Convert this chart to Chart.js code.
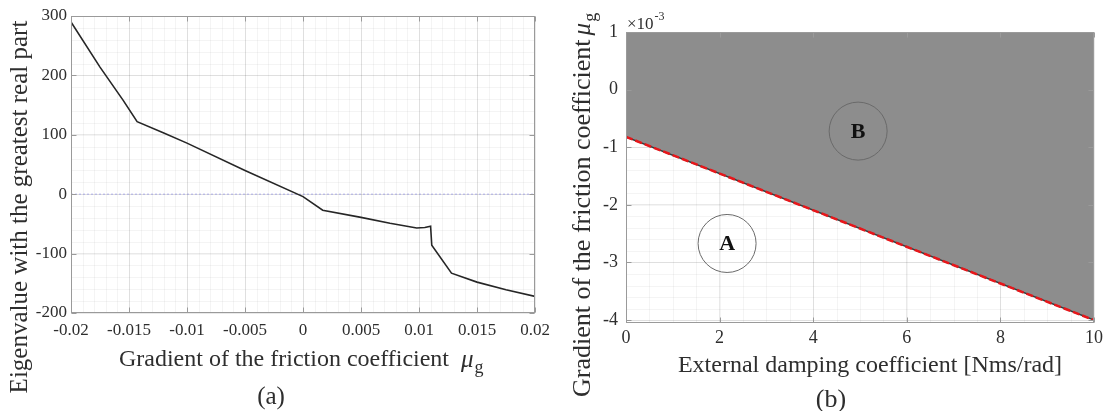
<!DOCTYPE html>
<html><head><meta charset="utf-8">
<script src="https://cdn.jsdelivr.net/npm/chart.js@4.4.1/dist/chart.umd.min.js"></script>
<style>
html,body{margin:0;padding:0;background:#fff;}
#wrap{position:relative;width:1108px;height:411px;overflow:hidden;background:#fff;}
#ca{position:absolute;left:0;top:0;}
#cb{position:absolute;left:560px;top:0;}
</style></head><body>
<div id="wrap"><canvas id="ca" width="560" height="411"></canvas><canvas id="cb" width="548" height="411"></canvas></div>
<script>
// ---------- (a) eigenvalue vs gradient of friction coefficient ----------
const frictionGradient = [-0.02, -0.0175, -0.0155, -0.0143, -0.012, -0.01, -0.005, 0, 0.0017, 0.005, 0.0075, 0.0098, 0.0105, 0.011, 0.0111, 0.0128, 0.015, 0.0175, 0.02];
const eigenRealPart    = [290, 214, 158, 122, 103, 86, 40, -4, -27, -39, -49, -57, -56, -54, -86, -133, -148, -161, -172];
const zeroLineX = [-0.02, 0.02];
const zeroLineY = [0, 0];
const xTicksA = [-0.02, -0.015, -0.01, -0.005, 0, 0.005, 0.01, 0.015, 0.02];
const xTickLabelsA = ['-0.02', '-0.015', '-0.01', '-0.005', '0', '0.005', '0.01', '0.015', '0.02'];
const yTicksA = [-200, -100, 0, 100, 200, 300];
const yTickLabelsA = ['-200', '-100', '0', '100', '200', '300'];

// ---------- (b) stability map ----------
const dampingCoeff = [0, 10];
const stabilityBoundary = [-0.82, -4.0];
const xTicksB = [0, 2, 4, 6, 8, 10];
const xTickLabelsB = ['0', '2', '4', '6', '8', '10'];
const yTicksB = [-4, -3, -2, -1, 0, 1];
const yTickLabelsB = ['-4', '-3', '-2', '-1', '0', '1'];
const regionX = [2.16, 4.96];
const regionY = [-2.67, -0.72];
const regionLabels = ['A', 'B'];

const SERIF = '"Liberation Serif", "Times New Roman", serif';
const TXT = '#2e2e2e';

function pts(xs, ys) { return xs.map((x, i) => ({ x: x, y: ys[i] })); }

function framePlugin(minorX, minorY) {
  return {
    id: 'frame',
    beforeDatasetsDraw(chart) {
      const { ctx, chartArea: a, scales: { x, y } } = chart;
      ctx.save();
      ctx.beginPath(); ctx.rect(a.left, a.top, a.right - a.left, a.bottom - a.top); ctx.clip();
      ctx.strokeStyle = 'rgba(0,0,0,0.045)'; ctx.lineWidth = 1;
      ctx.beginPath();
      for (let k = Math.ceil(x.min / minorX - 1e-6); k <= Math.floor(x.max / minorX + 1e-6); k++) {
        const p = Math.round(x.getPixelForValue(k * minorX)) + 0.5;
        ctx.moveTo(p, a.top); ctx.lineTo(p, a.bottom);
      }
      for (let k = Math.ceil(y.min / minorY - 1e-6); k <= Math.floor(y.max / minorY + 1e-6); k++) {
        const p = Math.round(y.getPixelForValue(k * minorY)) + 0.5;
        ctx.moveTo(a.left, p); ctx.lineTo(a.right, p);
      }
      ctx.stroke();
      ctx.restore();
    },
    afterDatasetsDraw(chart) {
      const { ctx, chartArea: a, scales: { x, y } } = chart;
      ctx.save();
      ctx.strokeStyle = '#9a9a9a'; ctx.lineWidth = 1;
      const L = Math.round(a.left) + 0.5, R = Math.round(a.right) - 0.5, T = Math.round(a.top) + 0.5, B = Math.round(a.bottom) - 0.5;
      ctx.strokeRect(L, T, R - L, B - T);
      ctx.beginPath();
      x.ticks.forEach(t => {
        const p = Math.round(x.getPixelForValue(t.value)) + 0.5;
        ctx.moveTo(p, B); ctx.lineTo(p, B - 5);
        ctx.moveTo(p, T); ctx.lineTo(p, T + 5);
      });
      y.ticks.forEach(t => {
        const p = Math.round(y.getPixelForValue(t.value)) + 0.5;
        ctx.moveTo(L, p); ctx.lineTo(L + 5, p);
        ctx.moveTo(R, p); ctx.lineTo(R - 5, p);
      });
      ctx.stroke();
      ctx.restore();
    }
  };
}

function muG(ctx, size) {
  ctx.font = 'italic ' + size + 'px ' + SERIF;
  ctx.fillText('\u03BC', 0, 0);
  const w = ctx.measureText('\u03BC').width;
  ctx.font = Math.round(size * 0.72) + 'px ' + SERIF;
  ctx.fillText('g', w + 1, size * 0.35);
}

const titlesA = {
  id: 'titlesA',
  afterDraw(chart) {
    const ctx = chart.ctx;
    ctx.save();
    ctx.fillStyle = TXT;
    ctx.textBaseline = 'middle';
    ctx.save();
    ctx.translate(20, 207); ctx.rotate(-Math.PI / 2);
    ctx.font = '25px ' + SERIF; ctx.textAlign = 'center';
    ctx.fillText('Eigenvalue with the greatest real part', 0, 0);
    ctx.restore();
    ctx.font = '24px ' + SERIF; ctx.textAlign = 'left';
    const main = 'Gradient of the friction coefficient  ';
    const wMain = ctx.measureText(main).width;
    const total = wMain + 24;
    const x0 = 302 - total / 2;
    ctx.fillText(main, x0, 360);
    ctx.save(); ctx.translate(x0 + wMain, 360); muG(ctx, 25); ctx.restore();
    ctx.font = '25px ' + SERIF; ctx.textAlign = 'center';
    ctx.fillText('(a)', 271, 397);
    ctx.restore();
  }
};

const titlesB = {
  id: 'titlesB',
  afterDraw(chart) {
    const ctx = chart.ctx;
    const { scales: { x, y } } = chart;
    ctx.save();
    ctx.fillStyle = TXT;
    ctx.textBaseline = 'middle';
    ctx.save();
    ctx.translate(23, 397); ctx.rotate(-Math.PI / 2);
    ctx.font = '26px ' + SERIF; ctx.textAlign = 'left';
    const main = 'Gradient of the friction coefficient  ';
    ctx.fillText(main, 0, 0);
    const w = ctx.measureText(main).width;
    ctx.translate(w - 9, 0); muG(ctx, 25);
    ctx.restore();
    ctx.font = '24px ' + SERIF; ctx.textAlign = 'center';
    ctx.fillText('External damping coefficient [Nms/rad]', 310, 366);
    ctx.font = '26px ' + SERIF;
    ctx.fillText('(b)', 271, 400);
    ctx.textAlign = 'left';
    ctx.font = '17px ' + SERIF;
    ctx.fillText('\u00D710', 67, 25);
    const we = ctx.measureText('\u00D710').width;
    ctx.font = '12px ' + SERIF;
    ctx.fillText('-3', 67 + we + 1, 17);
    ctx.font = 'bold 22px ' + SERIF; ctx.textAlign = 'center';
    ctx.fillStyle = '#111';
    regionLabels.forEach((t, i) => {
      ctx.fillText(t, x.getPixelForValue(regionX[i]), y.getPixelForValue(regionY[i]) + 1);
    });
    ctx.restore();
  }
};

const tickFont = { family: SERIF, size: 17 };

new Chart(document.getElementById('ca'), {
  type: 'scatter',
  data: {
    datasets: [
      { data: pts(frictionGradient, eigenRealPart), showLine: true, borderColor: '#262626', borderWidth: 1.6, pointRadius: 0, tension: 0 },
      { data: pts(zeroLineX, zeroLineY), showLine: true, borderColor: 'rgba(140,140,230,0.55)', borderWidth: 1.2, borderDash: [2, 2], pointRadius: 0 }
    ]
  },
  options: {
    responsive: false, animation: false, devicePixelRatio: 1,
    layout: { autoPadding: false, padding: { left: 0, top: 16, right: 25, bottom: 68 } },
    plugins: { legend: { display: false }, tooltip: { enabled: false } },
    scales: {
      x: {
        type: 'linear', min: -0.02, max: 0.02,
        afterBuildTicks: s => { s.ticks = xTicksA.map(v => ({ value: v })); },
        afterFit: s => { s.height = 30; },
        ticks: { font: tickFont, color: TXT, padding: 7, maxRotation: 0, autoSkip: false,
          callback: (v) => xTickLabelsA[xTicksA.findIndex(t => Math.abs(t - v) < 1e-9)] },
        grid: { color: 'rgba(0,0,0,0.085)', drawTicks: false },
        border: { display: false }
      },
      y: {
        type: 'linear', min: -200, max: 300,
        afterBuildTicks: s => { s.ticks = yTicksA.map(v => ({ value: v })); },
        afterFit: s => { s.width = 71; },
        ticks: { font: tickFont, color: TXT, padding: 4,
          callback: (v) => yTickLabelsA[yTicksA.indexOf(v)] },
        grid: { color: 'rgba(0,0,0,0.085)', drawTicks: false },
        border: { display: false }
      }
    }
  },
  plugins: [framePlugin(0.001, 20), titlesA]
});

new Chart(document.getElementById('cb'), {
  type: 'scatter',
  data: {
    datasets: [
      { data: pts(regionX, regionY), pointRadius: 29, pointBorderColor: '#6a6a6a', pointBackgroundColor: 'rgba(0,0,0,0)', pointBorderWidth: 1, showLine: false, order: 0 },
      { data: pts(dampingCoeff, stabilityBoundary), showLine: true, borderColor: '#e8161a', borderWidth: 2.5, borderDash: [7, 3], pointRadius: 0, order: 1 },
      { data: pts(dampingCoeff, stabilityBoundary), showLine: true, borderColor: '#3a3a3a', borderWidth: 1.5, pointRadius: 0, fill: 'end', backgroundColor: '#8d8d8d', order: 2 }
    ]
  },
  options: {
    responsive: false, animation: false, devicePixelRatio: 1,
    layout: { autoPadding: false, padding: { left: 0, top: 32, right: 14, bottom: 58 } },
    plugins: { legend: { display: false }, tooltip: { enabled: false }, filler: { propagate: false } },
    scales: {
      x: {
        type: 'linear', min: 0, max: 10,
        afterBuildTicks: s => { s.ticks = xTicksB.map(v => ({ value: v })); },
        afterFit: s => { s.height = 30; },
        ticks: { font: { family: SERIF, size: 18 }, color: TXT, padding: 4, maxRotation: 0, autoSkip: false,
          callback: (v) => xTickLabelsB[xTicksB.indexOf(v)] },
        grid: { color: 'rgba(0,0,0,0.085)', drawTicks: false },
        border: { display: false }
      },
      y: {
        type: 'linear', min: -4.05, max: 1,
        afterBuildTicks: s => { s.ticks = yTicksB.map(v => ({ value: v })); },
        afterFit: s => { s.width = 66; },
        ticks: { font: { family: SERIF, size: 18 }, color: TXT, padding: 8,
          callback: (v) => yTickLabelsB[yTicksB.indexOf(v)] },
        grid: { color: 'rgba(0,0,0,0.085)', drawTicks: false },
        border: { display: false }
      }
    }
  },
  plugins: [framePlugin(0.5, 0.2), titlesB]
});
</script>
</body></html>
